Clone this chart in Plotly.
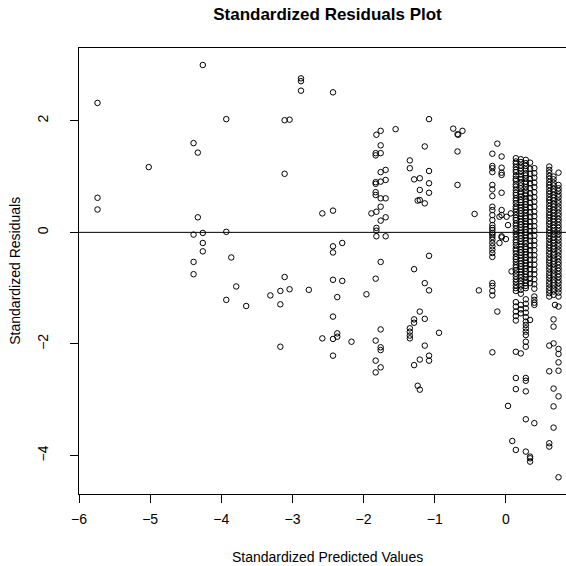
import plotly.graph_objects as go

# Scattered observations (standardized predicted value, standardized residual)
pred = [
    -5.74, -5.74, -5.74, -5.02,
    -4.39, -4.33, -4.26, -3.93, -4.33, -4.39, -4.26, -3.93, -4.26, -4.26, -3.86,
    -4.39, -4.39, -3.79, -3.93, -3.65,
    -3.11, -3.04, -3.11, -3.11, -3.31, -3.17, -3.04, -3.17, -3.17, -2.77,
    -2.88, -2.88, -2.88, -2.43, -2.58, -2.43, -2.43, -2.30, -2.43, -2.43, -2.30,
    -2.37, -2.43, -2.37, -2.37, -2.58, -2.43, -2.17, -2.43, -1.96,
    -1.55, -1.82, -1.76, -1.76, -1.83, -1.83, -1.76, -1.76, -1.69, -1.83, -1.83,
    -1.76, -1.69, -1.83, -1.83, -1.76, -1.69, -1.76, -1.89, -1.82, -1.76, -1.69,
    -1.82, -1.82, -1.82, -1.69, -1.76, -1.83, -1.76, -1.83, -1.76, -1.76, -1.83,
    -1.76, -1.83,
    -1.08, -1.14, -1.35, -1.35, -1.08, -1.29, -1.21, -1.08, -1.21, -1.08, -1.24,
    -1.21, -1.14, -1.08, -1.29, -1.14, -1.08, -1.21, -1.29, -1.29, -1.14, -1.35,
    -1.35, -1.35, -1.35, -0.94, -1.14, -1.08, -1.08, -1.29, -1.21, -1.24, -1.21,
    -0.74, -0.68, -0.67, -0.61, -0.68, -0.68, -0.44, -0.38,
    -0.12, -0.12, -0.09, -0.09, 0.00, 0.01, 0.07, 0.03, 0.08, 0.03, 0.09, 0.69,
]
resid = [
    2.32, 0.62, 0.41, 1.17,
    1.60, 1.43, 3.00, 2.03, 0.27, -0.04, -0.01, 0.01, -0.19, -0.34, -0.45,
    -0.53, -0.75, -0.97, -1.21, -1.32,
    2.01, 2.02, 1.05, -0.80, -1.13, -1.05, -1.02, -1.29, -2.05, -1.03,
    2.76, 2.71, 2.54, 2.51, 0.34, 0.39, -0.25, -0.19, -0.36, -0.85, -0.87,
    -1.16, -1.51, -1.81, -1.87, -1.90, -1.91, -1.96, -2.21, -1.11,
    1.85, 1.75, 1.82, 1.56, 1.42, 1.38, 1.42, 1.08, 1.12, 0.90, 0.87,
    0.91, 0.94, 0.72, 0.67, 0.61, 0.61, 0.46, 0.34, 0.37, 0.21, 0.27,
    0.08, 0.03, -0.07, -0.07, -0.53, -0.83, -1.74, -1.94, -2.06, -2.11, -2.30,
    -2.42, -2.51,
    2.03, 1.54, 1.29, 1.15, 1.10, 0.95, 0.97, 0.88, 0.76, 0.71, 0.57,
    0.58, 0.52, -0.42, -0.66, -0.91, -1.04, -1.42, -1.56, -1.62, -1.55, -1.72,
    -1.78, -1.85, -1.90, -1.80, -2.03, -2.21, -2.30, -2.38, -2.28, -2.75, -2.82,
    1.86, 1.76, 1.75, 1.82, 1.45, 0.85, 0.33, -1.04,
    1.59, -1.42, 0.28, -0.19, -0.12, 0.28, 0.34, 0.13, -0.70, -3.11, -3.74, -1.30,
]

# Residuals at the frequently repeated predicted levels
level_values = [-0.19, -0.06, 0.14, 0.21, 0.28, 0.34, 0.40, 0.61, 0.67, 0.74]
level_resid = [
    # -0.19
    [1.41, 1.19, 1.15, 1.08, 0.85, 0.77, 0.65, 0.46, 0.40, 0.31, 0.22, 0.13,
     0.08, 0.04, -0.01, -0.04, -0.08, -0.13, -0.19, -0.25, -0.31, -0.37, -0.44,
     -0.91, -0.96, -1.05, -1.13, -2.15],
    # -0.06
    [1.36, 1.16, 1.07, 1.03, 0.71, 0.40, 0.31, -0.07, -0.09],
    # 0.14
    [1.33, 1.27, 1.23, 1.17, 1.12, 1.08, 1.01, 0.96, 0.93, 0.86, 0.82, 0.76,
     0.71, 0.67, 0.61, 0.57, 0.52, 0.46, 0.42, 0.37, 0.31, 0.26, 0.22, 0.16,
     0.12, 0.07, 0.02, -0.03, -0.08, -0.14, -0.18, -0.23, -0.29, -0.33, -0.38,
     -0.44, -0.48, -0.53, -0.59, -0.63, -0.68, -0.74, -0.79, -0.84, -0.89,
     -0.95, -1.00, -1.05, -1.25, -1.33, -1.42, -1.50, -1.58, -2.14, -2.61,
     -2.81, -3.90],
    # 0.21
    [1.31, 1.26, 1.20, 1.15, 1.10, 1.04, 0.99, 0.95, 0.89, 0.84, 0.79, 0.73,
     0.69, 0.64, 0.58, 0.54, 0.49, 0.44, 0.39, 0.34, 0.29, 0.24, 0.19, 0.14,
     0.09, 0.04, -0.01, -0.06, -0.11, -0.16, -0.21, -0.26, -0.31, -0.36,
     -0.41, -0.46, -0.51, -0.56, -0.61, -0.66, -0.71, -0.76, -0.81, -0.87,
     -0.92, -0.97, -1.03, -1.10, -1.30, -1.38, -1.45, -2.17],
    # 0.28
    [1.30, 1.24, 1.19, 1.13, 1.06, 1.02, 0.97, 0.91, 0.87, 0.81, 0.75, 0.70,
     0.66, 0.60, 0.55, 0.50, 0.45, 0.40, 0.35, 0.29, 0.25, 0.20, 0.15, 0.10,
     0.05, 0.00, -0.05, -0.10, -0.15, -0.20, -0.26, -0.30, -0.35, -0.40,
     -0.45, -0.50, -0.55, -0.60, -0.65, -0.70, -0.75, -0.80, -0.86, -0.91,
     -0.96, -1.00, -1.20, -1.28, -1.36, -1.44, -1.52, -1.60, -1.66, -1.72,
     -1.78, -1.84, -1.96, -2.05, -2.61, -2.66, -2.85, -3.35, -3.93],
    # 0.34
    [1.25, 1.14, 1.05, 0.96, 0.88, 0.79, 0.70, 0.62, 0.53, 0.45, 0.36, 0.28,
     0.19, 0.11, 0.02, -0.07, -0.15, -0.24, -0.32, -0.41, -0.49, -0.58, -0.66,
     -0.75, -0.83, -0.91, -1.57, -4.02, -4.05, -4.11],
    # 0.40
    [1.15, 1.06, 0.98, 0.89, 0.81, 0.72, 0.63, 0.55, 0.46, 0.37, 0.29, 0.20,
     0.11, 0.03, -0.06, -0.15, -0.23, -0.32, -0.41, -0.49, -0.58, -0.67,
     -0.75, -0.84, -0.93, -1.01, -1.15, -1.21, -1.26, -1.30, -3.42],
    # 0.61
    [1.18, 1.12, 1.07, 1.01, 0.96, 0.90, 0.85, 0.80, 0.74, 0.69, 0.63, 0.58,
     0.53, 0.47, 0.42, 0.36, 0.31, 0.26, 0.20, 0.15, 0.09, 0.04, -0.01, -0.07,
     -0.12, -0.18, -0.23, -0.28, -0.34, -0.39, -0.45, -0.50, -0.55, -0.61,
     -0.66, -0.72, -0.77, -0.82, -0.88, -0.93, -0.99, -1.04, -1.09, -1.15,
     -2.03, -2.49, -3.78, -3.84],
    # 0.67
    [1.00, 0.95, 0.89, 0.84, 0.78, 0.73, 0.67, 0.62, 0.57, 0.51, 0.46, 0.40,
     0.35, 0.29, 0.24, 0.19, 0.13, 0.08, 0.02, -0.03, -0.09, -0.14, -0.19,
     -0.25, -0.30, -0.36, -0.41, -0.47, -0.52, -0.57, -0.63, -0.68, -0.74,
     -0.79, -0.85, -0.90, -0.95, -1.01, -1.06, -1.12, -1.56, -1.69, -1.99,
     -2.80, -3.12, -3.50],
    # 0.74
    [1.07, 0.85, 0.79, 0.74, 0.68, 0.63, 0.57, 0.52, 0.46, 0.41, 0.35, 0.30,
     0.24, 0.19, 0.13, 0.08, 0.02, -0.03, -0.09, -0.14, -0.20, -0.25, -0.31,
     -0.36, -0.42, -0.47, -0.53, -0.58, -0.64, -0.69, -0.75, -0.80, -0.86,
     -0.91, -0.97, -1.02, -1.08, -1.15, -1.33, -2.09, -2.18, -2.33, -2.48,
     -2.94, -4.39],
]

x_ticks = [-6, -5, -4, -3, -2, -1, 0]
y_ticks = [-4, -2, 0, 2]

xs = list(pred)
ys = list(resid)
for level, values in zip(level_values, level_resid):
    xs.extend([level] * len(values))
    ys.extend(values)

FONT = "Liberation Sans, Arial, Helvetica, sans-serif"

fig = go.Figure()
fig.add_trace(go.Scatter(
    x=xs, y=ys, mode="markers",
    marker=dict(symbol="circle-open", size=5.5, color="black",
                line=dict(color="black", width=1)),
    hoverinfo="x+y", showlegend=False,
))

# Reference line at zero residual
fig.add_hline(y=0, line=dict(color="black", width=1))

fig.update_layout(
    width=566, height=566,
    margin=dict(l=79, r=0, t=48, b=72),
    paper_bgcolor="white", plot_bgcolor="white",
    font=dict(family=FONT, size=14, color="black"),
    title=dict(text="<b>Standardized Residuals Plot</b>",
               font=dict(family=FONT, size=17, color="black"),
               xref="container", x=0.5786, xanchor="center",
               yref="container", y=0.9746, yanchor="middle"),
    annotations=[
        dict(text="Standardized Predicted Values", showarrow=False,
             xref="paper", yref="paper", x=0.511, y=-0.1406,
             xanchor="center", yanchor="middle",
             font=dict(family=FONT, size=14, color="black")),
        dict(text="Standardized Residuals", showarrow=False, textangle=-90,
             xref="paper", yref="paper", x=-0.132, y=0.5,
             xanchor="center", yanchor="middle",
             font=dict(family=FONT, size=14, color="black")),
    ],
)

fig.update_xaxes(
    range=[-6.0, 0.845], tickvals=x_ticks, ticks="outside", ticklen=8,
    tickcolor="black", tickwidth=1, showgrid=False, zeroline=False,
    showline=True, linecolor="black", linewidth=1, mirror=True,
    ticklabelstandoff=4,
    tickfont=dict(family=FONT, size=14, color="black"),
)
fig.update_yaxes(
    range=[-4.69, 3.305], tickvals=y_ticks, ticks="outside", ticklen=8,
    tickcolor="black", tickwidth=1, showgrid=False, zeroline=False,
    showline=True, linecolor="black", linewidth=1, mirror=False,
    tickangle=-90, ticklabelstandoff=16,
    tickfont=dict(family=FONT, size=14, color="black"),
)

fig.write_html("out.html")
